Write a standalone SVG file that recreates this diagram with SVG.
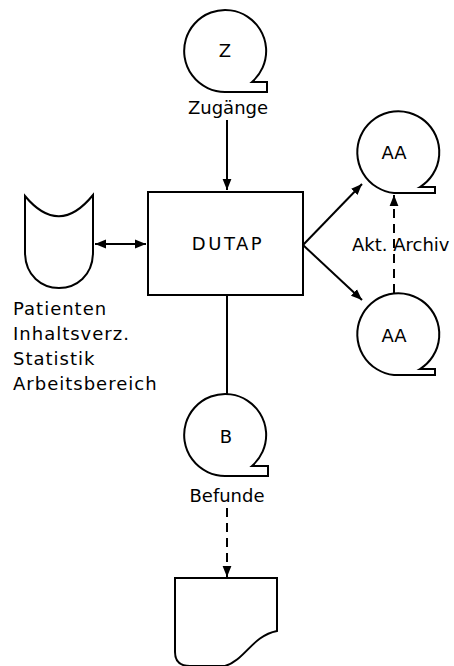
<svg xmlns="http://www.w3.org/2000/svg" width="454" height="666" viewBox="0 0 454 666">
<defs>
<marker id="ah" viewBox="0 0 10 10" refX="10" refY="5" markerWidth="5.5" markerHeight="5.5" orient="auto-start-reverse" markerUnits="strokeWidth">
<path d="M0,1 L10,5 L0,9 Z" fill="#000"/>
</marker>
<style>
.s{fill:#fff;stroke:#000;stroke-width:2}
.c{fill:none;stroke:#000;stroke-width:2}
.d{fill:none;stroke:#000;stroke-width:2;stroke-dasharray:9,6}
text{font-family:"DejaVu Sans","Liberation Sans",sans-serif;font-size:18px;fill:#000}
.m{text-anchor:middle}
.l{letter-spacing:1px}
</style>
</defs>
<rect width="454" height="666" fill="#fff"/>
<g id="connectors">
<line class="c" x1="227" y1="120" x2="227" y2="190" marker-end="url(#ah)"/>
<line class="c" x1="95" y1="244" x2="146" y2="244" marker-start="url(#ah)" marker-end="url(#ah)"/>
<line class="c" x1="303" y1="245" x2="362" y2="184" marker-end="url(#ah)"/>
<line class="c" x1="303" y1="245" x2="362" y2="300" marker-end="url(#ah)"/>
<line class="d" x1="394" y1="293" x2="394" y2="195" marker-end="url(#ah)"/>
<line class="c" x1="227" y1="295" x2="227" y2="394"/>
<line class="d" x1="227" y1="508" x2="227" y2="577" marker-end="url(#ah)"/>
</g>
<g id="tape-z">
<path class="s" d="M225,92 A41,41 0 1 1 252,82 L267,82 L267,92 Z"/>
<text class="m" x="225" y="57">Z</text>
<text class="m" x="228" y="114">Zugänge</text>
</g>
<g id="dutap">
<rect class="s" x="148" y="192" width="155" height="103"/>
<text class="m" x="228" y="250" letter-spacing="2.5">DUTAP</text>
</g>
<g id="storage">
<path class="s" d="M25,196 Q59,237 93,195 L93,252 C93,300 25,300 25,252 Z"/>
<text class="l" x="13" y="315">Patienten</text>
<text class="l" x="13" y="340">Inhaltsverz.</text>
<text class="l" x="13" y="365">Statistik</text>
<text class="l" x="13" y="390">Arbeitsbereich</text>
</g>
<g id="tape-aa1">
<path class="s" d="M394,193 A41,41 0 1 1 420,187 L435,187 L435,193 Z"/>
<text class="m" x="394" y="159">AA</text>
</g>
<g id="tape-aa2">
<path class="s" d="M394,375 A41,41 0 1 1 420,369 L435,369 L435,375 Z"/>
<text class="m" x="394" y="342">AA</text>
</g>
<text x="352" y="251">Akt. Archiv</text>
<g id="tape-b">
<path class="s" d="M225,476 A41,41 0 1 1 252,466 L268,466 L268,476 Z"/>
<text class="m" x="226" y="443">B</text>
<text class="m" x="227" y="502">Befunde</text>
</g>
<g id="document">
<path class="s" d="M175,578 L277,578 L277,631 C252,636 245,660 225,666 L190,666 Q175,666 175,652 Z"/>
</g>
</svg>
